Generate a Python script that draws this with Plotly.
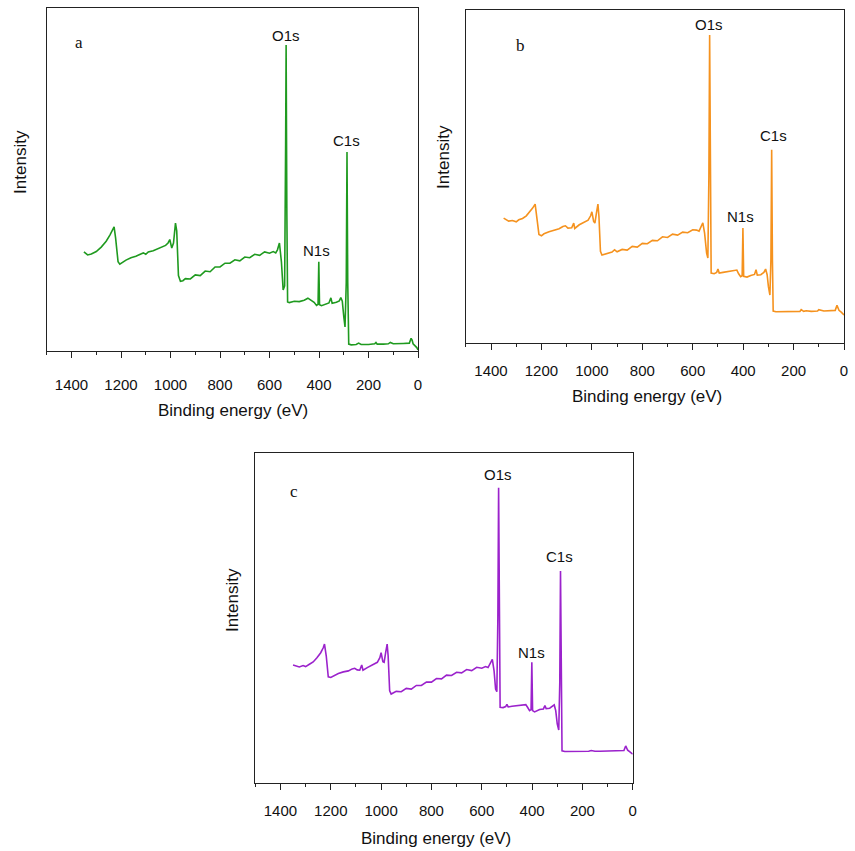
import plotly.graph_objects as go

# ---------------- data (intensity in arbitrary units) ----------------
energy_a = [1350, 1345, 1335, 1320, 1300, 1280, 1260, 1245, 1235, 1228, 1222, 1212, 1205, 1195, 1180,
            1160, 1140, 1120, 1110, 1100, 1090, 1070, 1050, 1035, 1020, 1010, 1003, 995, 988, 980,
            975, 968, 960, 950, 940, 920, 900, 880, 860, 840, 820, 800, 780, 760, 740, 720, 700,
            680, 660, 640, 620, 600, 585, 575, 568, 560, 552, 545, 539, 535, 533, 530, 527, 520,
            500, 480, 460, 445, 435, 420, 410, 404, 401, 398, 390, 370, 360, 352, 347, 330, 318,
            312, 306, 300, 295, 290, 287, 284, 280, 270, 250, 240, 230, 200, 175, 170, 165, 140,
            120, 112, 100, 60, 35, 28, 24, 20, 10, 5, 0]
intensity_a = [28.9, 28.6, 28.0, 28.3, 29.0, 30.3, 32.0, 33.8, 35.0, 36.2, 33.0, 26.0, 25.3, 25.8, 26.5,
               27.2, 27.6, 28.3, 28.6, 28.2, 28.9, 29.2, 29.9, 30.5, 30.8, 31.5, 32.5, 30.0, 31.5, 37.3,
               35.0, 22.0, 20.3, 20.5, 21.1, 21.0, 22.2, 22.0, 23.3, 23.1, 24.5, 24.5, 25.6, 25.6, 26.6,
               26.3, 27.4, 27.2, 28.2, 27.9, 28.9, 28.5, 29.0, 28.6, 29.5, 31.5, 26.0, 17.8, 19.0, 60.0,
               89.2, 40.0, 14.3, 14.1, 14.5, 14.4, 14.8, 15.4, 15.0, 14.2, 13.3, 13.6, 26.0, 13.5, 13.2,
               13.6, 14.0, 15.5, 13.9, 14.2, 14.6, 15.6, 14.5, 10.0, 7.0, 20.0, 58.0, 20.0, 2.0, 1.8,
               1.9, 2.3, 1.9, 1.9, 2.1, 2.5, 2.0, 2.0, 2.1, 2.5, 2.1, 2.2, 2.3, 3.7, 3.2, 2.1, 1.5,
               1.0, 0.3]

energy_b = [1350, 1340, 1330, 1315, 1300, 1290, 1275, 1260, 1245, 1235, 1225, 1218, 1210, 1200, 1190,
            1170, 1150, 1130, 1115, 1105, 1095, 1080, 1072, 1068, 1050, 1030, 1015, 1005, 1000, 993,
            988, 982, 976, 972, 966, 960, 940, 920, 910, 900, 880, 860, 840, 820, 800, 780, 760,
            740, 720, 700, 680, 660, 640, 620, 600, 585, 575, 568, 560, 553, 545, 540, 536, 533,
            530, 527, 515, 505, 500, 495, 480, 460, 440, 425, 418, 410, 404, 401, 398, 385, 370,
            355, 349, 344, 330, 318, 311, 305, 300, 294, 290, 287, 284, 281, 270, 250, 235, 220,
            200, 175, 170, 160, 150, 130, 105, 100, 80, 55, 35, 28, 24, 20, 10, 5, 0]
intensity_b = [37.5, 37.0, 36.6, 36.8, 36.4, 37.0, 37.4, 38.2, 39.4, 40.5, 41.7, 38.0, 32.6, 32.2, 32.8,
               33.4, 33.9, 34.3, 35.0, 35.2, 34.5, 34.6, 36.0, 34.4, 35.5, 36.2, 36.9, 38.2, 39.4, 36.5,
               36.0, 39.0, 41.7, 38.0, 27.5, 26.4, 26.8, 27.3, 28.0, 27.4, 28.1, 27.9, 29.0, 28.8, 29.9,
               29.8, 30.8, 30.7, 31.9, 31.7, 32.7, 32.4, 33.3, 33.1, 34.0, 33.9, 33.6, 34.8, 36.1, 33.0,
               27.0, 25.5, 50.0, 92.5, 40.0, 21.0, 20.8, 21.2, 22.2, 21.0, 21.2, 21.5, 21.6, 21.9, 20.8,
               19.9, 20.2, 34.5, 20.0, 19.8, 20.3, 20.6, 22.0, 20.4, 20.5, 21.2, 22.2, 20.5, 17.0, 14.4,
               25.0, 58.0, 25.0, 9.6, 9.4, 9.4, 9.6, 9.4, 9.4, 9.5, 10.0, 9.5, 9.7, 9.5, 9.6, 10.0,
               9.6, 9.7, 9.8, 11.3, 10.6, 9.8, 9.2, 8.8, 8.4]

energy_c = [1350, 1340, 1325, 1310, 1300, 1285, 1270, 1255, 1240, 1230, 1225, 1218, 1210, 1200, 1185,
            1170, 1150, 1130, 1115, 1105, 1095, 1085, 1077, 1072, 1055, 1035, 1015, 1005, 1000, 993,
            988, 982, 976, 972, 966, 960, 940, 920, 900, 880, 860, 840, 820, 800, 780, 760, 740,
            720, 700, 680, 660, 640, 620, 600, 585, 575, 566, 558, 551, 545, 540, 536, 533, 530,
            527, 515, 505, 500, 495, 480, 460, 440, 425, 418, 410, 404, 401, 398, 390, 370, 355,
            349, 344, 330, 318, 312, 306, 300, 294, 290, 287, 284, 281, 270, 250, 230, 200, 175,
            165, 150, 130, 100, 80, 55, 35, 28, 24, 20, 10, 5, 0]
intensity_c = [35.8, 35.5, 35.2, 35.6, 35.3, 36.0, 36.7, 38.0, 39.5, 41.0, 42.1, 38.5, 32.2, 32.0, 32.6,
               33.2, 33.7, 34.0, 34.6, 34.8, 34.3, 34.2, 35.8, 34.2, 35.0, 35.8, 36.6, 38.0, 39.5, 36.8,
               36.6, 39.5, 42.1, 38.5, 28.0, 27.0, 27.8, 27.7, 28.7, 28.5, 29.6, 29.6, 30.6, 30.6, 31.7,
               31.6, 32.7, 32.6, 33.6, 33.4, 34.4, 34.1, 35.1, 34.8, 35.3, 35.0, 36.2, 37.5, 34.0, 28.5,
               27.7, 50.0, 89.4, 40.0, 23.0, 22.9, 23.2, 23.9, 23.1, 23.3, 23.5, 23.6, 23.8, 23.0, 22.0,
               22.3, 36.6, 22.0, 21.6, 22.3, 22.5, 23.5, 22.6, 22.7, 23.2, 23.7, 22.0, 18.0, 16.1, 30.0,
               64.2, 30.0, 9.8, 9.6, 9.6, 9.7, 9.6, 9.7, 9.9, 9.7, 9.7, 9.7, 9.8, 9.8, 9.9, 11.3, 10.7,
               10.0, 9.4, 9.1, 8.8]

panel_letters = ["a", "b", "c"]
peak_labels = ["O1s", "C1s", "N1s"]
x_tick_values = [1400, 1200, 1000, 800, 600, 400, 200, 0]
x_tick_labels = ["1400", "1200", "1000", "800", "600", "400", "200", "0"]
x_title = "Binding energy (eV)"
y_title = "Intensity"

# ---------------- figure ----------------
W, H = 855, 851
SANS = "Arial, Liberation Sans, sans-serif"
SERIF = "Times New Roman, Liberation Serif, serif"

def px_x(p):
    return p / W

def px_y(p):
    return 1 - p / H

# panel boxes in pixels: left, right, top, bottom
boxes = [(47, 420, 8, 351), (468, 848, 10, 343), (256.5, 635.7, 452.7, 783.3)]
colors = ["#1f9a1f", "#f5921e", "#9b22cc"]
datasets = [(energy_a, intensity_a), (energy_b, intensity_b), (energy_c, intensity_c)]
standoffs = [14, 8, 8]

fig = go.Figure()
for i, ((xs, ys), col) in enumerate(zip(datasets, colors)):
    sfx = "" if i == 0 else str(i + 1)
    fig.add_trace(go.Scatter(x=xs, y=ys, mode="lines", line=dict(color=col, width=1.6),
                             xaxis="x" + sfx, yaxis="y" + sfx, showlegend=False,
                             hoverinfo="skip"))
    l, r, t, b = boxes[i]
    fig.layout["xaxis" + sfx] = dict(
        domain=[px_x(l), px_x(r)], anchor="y" + sfx, range=[1500, 0],
        showgrid=False, zeroline=False, showline=True, linecolor="#222", linewidth=1,
        mirror=True, ticks="outside", ticklen=6, tickwidth=1, tickcolor="#222",
        tickvals=x_tick_values, ticktext=x_tick_labels,
        ticklabelstandoff=standoffs[i],
        minor=dict(dtick=100, tick0=0, ticks="outside", ticklen=3, tickwidth=1, tickcolor="#222"),
        tickfont=dict(family=SANS, size=15, color="#111"))
    fig.layout["yaxis" + sfx] = dict(
        domain=[px_y(b), px_y(t)], anchor="x" + sfx, range=[0, 100],
        showgrid=False, zeroline=False, showline=True, linecolor="#222", linewidth=1,
        mirror=True, ticks="", showticklabels=False)

# label positions (data coords) for O1s, C1s, N1s and panel letter
label_pos = [
    [(534.6, 92.1), (289, 61.5), (410, 29.4)],
    [(537.5, 95.5), (280.6, 62.2), (410, 37.9)],
    [(536.6, 93.5), (292.6, 68.5), (401, 39.6)],
]
letter_pos = [(1370, 89.8), (1283, 89.2), (1347, 88.2)]
xtitle_pos = [(233.8, 410), (650, 397), (438.3, 838)]
ytitle_pos = [(20, 162), (445, 157), (233, 600)]

ann = []
for i in range(3):
    sfx = "" if i == 0 else str(i + 1)
    for lab, (x, y) in zip(peak_labels, label_pos[i]):
        ann.append(dict(x=x, y=y, xref="x" + sfx, yref="y" + sfx, text=lab, showarrow=False,
                        font=dict(family=SANS, size=15, color="#111"),
                        xanchor="center", yanchor="middle"))
    lx, ly = letter_pos[i]
    ann.append(dict(x=lx, y=ly, xref="x" + sfx, yref="y" + sfx, text=panel_letters[i],
                    showarrow=False, font=dict(family=SERIF, size=17, color="#111"),
                    xanchor="center", yanchor="middle"))
    tx, ty = xtitle_pos[i]
    ann.append(dict(x=px_x(tx), y=px_y(ty), xref="paper", yref="paper", text=x_title,
                    showarrow=False, font=dict(family=SANS, size=17, color="#111"),
                    xanchor="center", yanchor="middle"))
    yx, yy = ytitle_pos[i]
    ann.append(dict(x=px_x(yx), y=px_y(yy), xref="paper", yref="paper", text=y_title,
                    showarrow=False, textangle=-90,
                    font=dict(family=SANS, size=17, color="#111"),
                    xanchor="center", yanchor="middle"))

fig.update_layout(width=W, height=H, margin=dict(l=0, r=0, t=0, b=0),
                  paper_bgcolor="white", plot_bgcolor="white", annotations=ann)

fig.write_html("out.html", config={"displayModeBar": False},
               post_script="document.body.style.margin='0';document.body.style.overflow='hidden';")
